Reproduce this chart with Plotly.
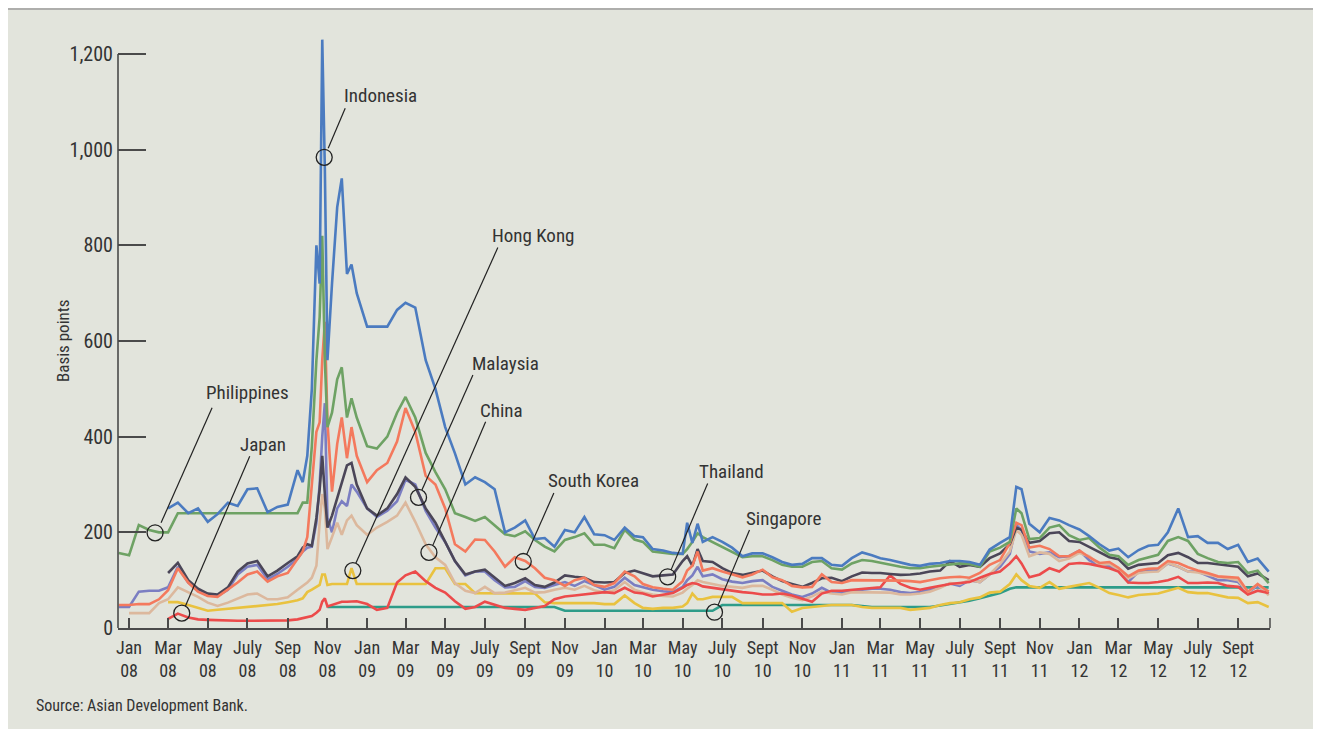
import plotly.graph_objects as go

# ---------------- data (basis points) ----------------
dates = [
"2007-12-16","2008-01-01","2008-01-16","2008-02-01","2008-02-16","2008-03-01","2008-03-16","2008-04-01","2008-04-16","2008-05-01",
"2008-05-16","2008-06-01","2008-06-16","2008-07-01","2008-07-16","2008-08-01","2008-08-16","2008-09-01","2008-09-16","2008-09-24",
"2008-10-01","2008-10-08","2008-10-15","2008-10-20","2008-10-24","2008-10-28","2008-11-01","2008-11-08","2008-11-16","2008-11-23",
"2008-12-01","2008-12-08","2008-12-16","2009-01-01","2009-01-16","2009-02-01","2009-02-16","2009-03-01","2009-03-16","2009-04-01",
"2009-04-16","2009-05-01","2009-05-16","2009-06-01","2009-06-16","2009-07-01","2009-07-16","2009-08-01","2009-08-16","2009-09-01",
"2009-09-16","2009-10-01","2009-10-16","2009-11-01","2009-11-16","2009-12-01","2009-12-16","2010-01-01","2010-01-16","2010-02-01",
"2010-02-16","2010-03-01","2010-03-16","2010-04-01","2010-04-16","2010-05-01","2010-05-08","2010-05-16","2010-05-24","2010-06-01",
"2010-06-16","2010-07-01","2010-07-16","2010-08-01","2010-08-16","2010-09-01","2010-09-16","2010-10-01","2010-10-16","2010-11-01",
"2010-11-16","2010-12-01","2010-12-16","2011-01-01","2011-01-16","2011-02-01","2011-02-16","2011-03-01","2011-03-16","2011-04-01",
"2011-04-16","2011-05-01","2011-05-16","2011-06-01","2011-06-16","2011-07-01","2011-07-16","2011-08-01","2011-08-16","2011-09-01",
"2011-09-16","2011-09-26","2011-10-04","2011-10-16","2011-11-01","2011-11-16","2011-12-01","2011-12-16","2012-01-01","2012-01-16",
"2012-02-01","2012-02-16","2012-03-01","2012-03-16","2012-04-01","2012-04-16","2012-05-01","2012-05-16","2012-06-01","2012-06-16",
"2012-07-01","2012-07-16","2012-08-01","2012-08-16","2012-09-01","2012-09-16","2012-10-01","2012-10-18",
]

indonesia = [
None, None, None, None, None, 250, 262, 240, 250, 222,
238, 262, 255, 290, 292, 242, 253, 258, 330, 305,
360, 500, 800, 720, 1230, 960, 560, 720, 880, 940,
740, 760, 700, 630, 630, 630, 665, 680, 670, 560,
500, 420, 365, 300, 315, 305, 290, 200, 210, 225,
186, 188, 170, 205, 200, 232, 196, 194, 184, 210,
192, 190, 165, 162, 157, 155, 220, 178, 218, 180,
190, 180, 168, 150, 156, 156, 148, 138, 132, 134,
146, 146, 132, 130, 146, 158, 152, 146, 142, 137,
132, 130, 134, 136, 140, 140, 138, 132, 164, 178,
190, 295, 290, 218, 200, 230, 225, 215, 206, 192,
175, 162, 166, 148, 163, 172, 174, 200, 250, 190,
192, 178, 178, 165, 174, 138, 145, 118,
]

philippines = [
157, 152, 215, 205, 200, 200, 240, 240, 240, 240,
240, 240, 240, 240, 240, 240, 240, 240, 240, 262,
262, 380, 560, 650, 820, 560, 420, 450, 520, 545,
440, 480, 440, 380, 375, 400, 450, 483, 440, 366,
326, 290, 240, 232, 224, 232, 215, 196, 192, 202,
184, 170, 160, 184, 190, 198, 174, 174, 167, 205,
185, 180, 160, 158, 155, 155, 165, 180, 198, 190,
180, 170, 160, 148, 150, 150, 142, 132, 128, 128,
138, 140, 125, 122, 135, 142, 140, 136, 132, 128,
125, 125, 128, 130, 132, 135, 134, 128, 160, 168,
180, 250, 240, 186, 188, 210, 215, 194, 184, 188,
168, 153, 150, 132, 142, 148, 153, 182, 190, 182,
155, 146, 138, 136, 138, 115, 120, 94,
]

thailand = [
None, None, None, None, None, 115, 136, 100, 82, 72,
70, 85, 118, 135, 140, 108, 120, 136, 150, 168,
175, 172, 230, 290, 360, 280, 210, 235, 270, 300,
340, 345, 300, 250, 235, 250, 280, 315, 295, 250,
220, 180, 140, 112, 118, 122, 105, 88, 94, 104,
90, 86, 95, 110, 107, 105, 96, 95, 96, 115,
120, 115, 108, 110, 112, 140, 150, 130, 165, 140,
138, 125, 115, 111, 115, 120, 108, 98, 92, 86,
94, 104, 105, 98, 108, 116, 115, 115, 113, 111,
112, 114, 118, 120, 140, 128, 132, 128, 146, 156,
175, 210, 205, 178, 182, 198, 200, 182, 180, 170,
158, 148, 144, 124, 132, 134, 136, 152, 157, 148,
136, 136, 133, 130, 128, 108, 114, 100,
]

south_korea = [
48, 48, 50, 50, 60, 79, 125, 95, 76, 67,
65, 80, 95, 112, 118, 97, 108, 115, 145, 160,
190, 300, 410, 430, 560, 640, 431, 285, 385, 440,
355, 420, 360, 305, 330, 345, 390, 460, 410, 318,
300, 250, 175, 160, 185, 184, 160, 128, 148, 140,
125, 105, 100, 88, 100, 105, 90, 86, 94, 118,
108, 92, 85, 82, 80, 98, 120, 130, 160, 120,
125, 118, 112, 106, 112, 122, 106, 100, 88, 85,
86, 112, 96, 94, 100, 100, 100, 100, 100, 99,
98, 96, 100, 104, 106, 107, 105, 115, 132, 142,
178, 220, 215, 168, 172, 165, 150, 150, 162, 148,
136, 138, 126, 108, 120, 124, 125, 140, 136, 127,
120, 115, 108, 106, 105, 76, 92, 76,
]

malaysia = [
44, 44, 76, 78, 78, 85, 128, 95, 78, 68,
67, 80, 112, 128, 132, 102, 113, 128, 145, 160,
168, 170, 220, 300, 400, 470, 230, 200, 250, 265,
255, 300, 285, 250, 232, 245, 265, 310, 300, 245,
210, 180, 140, 110, 118, 118, 100, 85, 86, 98,
86, 84, 90, 96, 88, 98, 90, 80, 86, 105,
90, 86, 80, 77, 75, 86, 100, 110, 128, 108,
112, 102, 97, 94, 98, 100, 86, 78, 70, 65,
72, 84, 74, 74, 78, 80, 82, 82, 80, 75,
73, 75, 80, 86, 93, 88, 100, 96, 112, 128,
155, 215, 205, 160, 155, 158, 148, 150, 162, 142,
130, 130, 120, 96, 118, 120, 120, 135, 128, 118,
118, 110, 100, 100, 96, 74, 88, 72,
]

china = [
None, 31, 31, 31, 52, 60, 85, 75, 65, 53,
46, 53, 62, 70, 72, 60, 60, 64, 80, 88,
95, 105, 130, 220, 280, 250, 165, 190, 220, 195,
225, 235, 215, 195, 210, 222, 235, 262, 222, 175,
148, 132, 94, 78, 73, 86, 73, 74, 79, 84,
74, 75, 80, 84, 80, 88, 79, 74, 79, 96,
80, 74, 70, 67, 66, 74, 82, 90, 100, 96,
92, 88, 86, 84, 88, 88, 80, 70, 63, 58,
66, 76, 72, 70, 75, 75, 75, 75, 74, 70,
70, 72, 76, 84, 94, 92, 100, 96, 112, 134,
160, 205, 195, 150, 158, 155, 140, 145, 157, 150,
132, 134, 122, 104, 115, 117, 118, 136, 128, 118,
116, 112, 107, 104, 100, 74, 92, 68,
]

japan = [
None, None, None, None, None, 19, 30, 22, 18, 17,
16, 15, 15, 15, 15, 15, 15, 16, 18, 20,
22, 25, 32, 38, 55, 62, 45, 48, 52, 55,
55, 56, 56, 50, 38, 42, 95, 110, 118, 98,
84, 74, 56, 40, 44, 55, 48, 42, 40, 38,
42, 46, 60, 66, 68, 70, 72, 75, 73, 84,
74, 72, 66, 70, 73, 84, 90, 94, 92, 87,
84, 80, 78, 75, 73, 70, 70, 72, 68, 62,
55, 72, 78, 78, 80, 82, 84, 85, 110, 92,
84, 80, 84, 88, 92, 94, 96, 105, 113, 118,
135, 150, 135, 106, 112, 125, 118, 134, 136, 134,
130, 125, 118, 95, 94, 94, 96, 100, 107, 94,
94, 95, 94, 88, 86, 70, 78, 73,
]

hong_kong = [
None, None, None, None, None, 54, 54, 48, 42, 36,
38, 40, 42, 45, 46, 48, 50, 54, 58, 62,
75, 80, 85, 90, 112, 112, 90, 92, 92, 92,
92, 125, 92, 92, 92, 92, 92, 92, 92, 92,
125, 125, 92, 92, 73, 73, 73, 73, 73, 72,
72, 54, 52, 52, 52, 52, 52, 50, 50, 68,
52, 42, 40, 42, 42, 45, 52, 72, 60, 60,
65, 65, 65, 52, 52, 52, 52, 52, 34, 42,
44, 46, 48, 48, 48, 44, 42, 42, 42, 42,
38, 40, 42, 48, 52, 54, 60, 64, 74, 76,
92, 112, 100, 88, 84, 96, 82, 86, 90, 94,
84, 73, 69, 64, 69, 70, 72, 78, 84, 75,
73, 73, 68, 64, 63, 52, 54, 44,
]

singapore = [
None, None, None, None, None, None, None, None, None, None,
None, None, None, None, None, None, None, None, None, None,
None, None, None, None, None, None, 44, 44, 44, 44,
44, 44, 44, 44, 44, 44, 44, 44, 44, 44,
44, 44, 44, 44, 44, 44, 44, 44, 44, 44,
44, 44, 44, 36, 36, 36, 36, 36, 36, 36,
36, 36, 36, 36, 36, 36, 36, 36, 36, 36,
36, 48, 48, 48, 48, 48, 48, 48, 48, 48,
48, 48, 48, 49, 48, 46, 44, 44, 44, 44,
44, 44, 44, 47, 50, 54, 57, 62, 68, 73,
82, 85, 85, 85, 85, 85, 85, 85, 85, 85,
85, 85, 85, 85, 85, 85, 85, 85, 85, 85,
85, 85, 85, 85, 85, 85, 85, 85,
]

tick_dates = ["2008-01-01","2008-03-01","2008-05-01","2008-07-01","2008-09-01","2008-11-01",
              "2009-01-01","2009-03-01","2009-05-01","2009-07-01","2009-09-01","2009-11-01",
              "2010-01-01","2010-03-01","2010-05-01","2010-07-01","2010-09-01","2010-11-01",
              "2011-01-01","2011-03-01","2011-05-01","2011-07-01","2011-09-01","2011-11-01",
              "2012-01-01","2012-03-01","2012-05-01","2012-07-01","2012-09-01"]
tick_labels = ["Jan<br>08","Mar<br>08","May<br>08","July<br>08","Sep<br>08","Nov<br>08",
               "Jan<br>09","Mar<br>09","May<br>09","July<br>09","Sept<br>09","Nov<br>09",
               "Jan<br>10","Mar<br>10","May<br>10","July<br>10","Sept<br>10","Nov<br>10",
               "Jan<br>11","Mar<br>11","May<br>11","July<br>11","Sept<br>11","Nov<br>11",
               "Jan<br>12","Mar<br>12","May<br>12","July<br>12","Sept<br>12"]
y_ticks = [0, 200, 400, 600, 800, 1000, 1200]
y_tick_labels = ["0", "200", "400", "600", "800", "1,000", "1,200"]

# callouts: label, anchor date, anchor value
callout_names = ["Indonesia", "Philippines", "Japan", "Hong Kong", "Malaysia",
                 "China", "South Korea", "Thailand", "Singapore"]
callout_dates = ["2008-10-27", "2008-02-10", "2008-03-22", "2008-12-10", "2009-03-21",
                 "2009-04-06", "2009-08-29", "2010-04-08", "2010-06-19"]
callout_values = [984, 199, 31, 120, 273, 158, 139, 107, 33]

# ---------------- style ----------------
FONT = "Liberation Sans Narrow, Arial Narrow, Roboto Condensed, Roboto, sans-serif"
PANEL = "#e2e4dc"
TXT = "#333333"
AX = "#4a4a4a"

series = [
    ("Singapore", singapore, "#2e9c89"),
    ("Hong Kong", hong_kong, "#e9c23f"),
    ("Malaysia", malaysia, "#7b7ec2"),
    ("China", china, "#dcb89d"),
    ("Japan", japan, "#ec4b4b"),
    ("Thailand", thailand, "#4b4658"),
    ("South Korea", south_korea, "#f4795d"),
    ("Philippines", philippines, "#6ea264"),
    ("Indonesia", indonesia, "#4b7bc0"),
]

fig = go.Figure()
for name, vals, col in series:
    fig.add_trace(go.Scatter(x=dates, y=vals, mode="lines", name=name,
                             line=dict(color=col, width=2.6), connectgaps=False,
                             showlegend=False))

# layout offsets (pixels, right/up positive) relative to callout anchors
line_start = [(4, 9), (6, 10), (3.5, 6.7), (3, 7.4), (3.4, 7.3), (4, 7.3), (3.3, 6.7), (3.3, 6.7), (3.4, 6.6)]
line_end = [(21, 49), (57, 125), (68, 157), (145, 323), (54.4, 122.3), (56.7, 130.6), (30.6, 68.4), (40, 93.4), (35, 82.3)]
text_off = [(56, 62), (92, 140), (81, 169), (180, 335), (87, 134), (73, 142), (70, 81), (64, 105), (69, 94)]

shapes = []
# top rule of the panel
shapes.append(dict(type="line", xref="paper", yref="paper", x0=-0.0955, x1=1.0399,
                   y0=1.0265, y1=1.0265, line=dict(color="#9c9c9c", width=1.5)))
# y axis line (up to 1,200)
shapes.append(dict(type="line", xref="paper", yref="y", x0=0, x1=0, y0=0, y1=1200,
                   line=dict(color=AX, width=1.6)))
# tick at right end of x axis
shapes.append(dict(type="line", xref="paper", yref="y", x0=1, x1=1, y0=0, y1=21,
                   line=dict(color=AX, width=1.5)))

annotations = []
for i, nm in enumerate(callout_names):
    d, v = callout_dates[i], callout_values[i]
    shapes.append(dict(type="circle", xref="x", yref="y", xsizemode="pixel", ysizemode="pixel",
                       xanchor=d, yanchor=v, x0=-8, x1=8, y0=-8, y1=8,
                       line=dict(color="#222222", width=1.3)))
    shapes.append(dict(type="line", xref="x", yref="y", xsizemode="pixel", ysizemode="pixel",
                       xanchor=d, yanchor=v, x0=line_start[i][0], y0=line_start[i][1],
                       x1=line_end[i][0], y1=line_end[i][1],
                       line=dict(color="#222222", width=1.2)))
    annotations.append(dict(x=d, y=v, xref="x", yref="y", text=nm, showarrow=False,
                            xshift=text_off[i][0], yshift=text_off[i][1],
                            font=dict(family=FONT, size=19, color=TXT)))

annotations.append(dict(xref="paper", yref="paper", x=-0.0477, y=0.476, text="Basis points",
                        xanchor="center", yanchor="middle",
                        textangle=-90, showarrow=False,
                        font=dict(family=FONT, size=17, color=TXT)))
annotations.append(dict(xref="paper", yref="paper", x=-0.0729, y=-0.129, xanchor="left",
                        yanchor="middle",
                        text="Source: Asian Development Bank.", showarrow=False,
                        font=dict(family=FONT, size=16, color=TXT)))

fig.update_layout(
    width=1308, height=730,
    margin=dict(l=110, r=46, t=17, b=110),
    paper_bgcolor=PANEL, plot_bgcolor=PANEL,
    font=dict(family=FONT, size=18, color=TXT),
    shapes=shapes, annotations=annotations,
    xaxis=dict(type="date", range=["2007-12-15", "2012-10-20"], showgrid=False, zeroline=False,
               showline=True, linecolor=AX, linewidth=2, ticks="inside", ticklen=10,
               tickwidth=1.5, tickcolor=AX, tickvals=tick_dates, ticktext=tick_labels,
               tickfont=dict(family=FONT, size=18, color=TXT), ticklabelstandoff=2),
    yaxis=dict(range=[0, 1260.6], showgrid=False, zeroline=False, showline=False,
               ticks="inside", ticklen=28, tickwidth=1.5, tickcolor=AX,
               tickvals=y_ticks, ticktext=y_tick_labels,
               tickfont=dict(family=FONT, size=20, color=TXT), ticklabelstandoff=4),
)

fig.write_html("out.html")
